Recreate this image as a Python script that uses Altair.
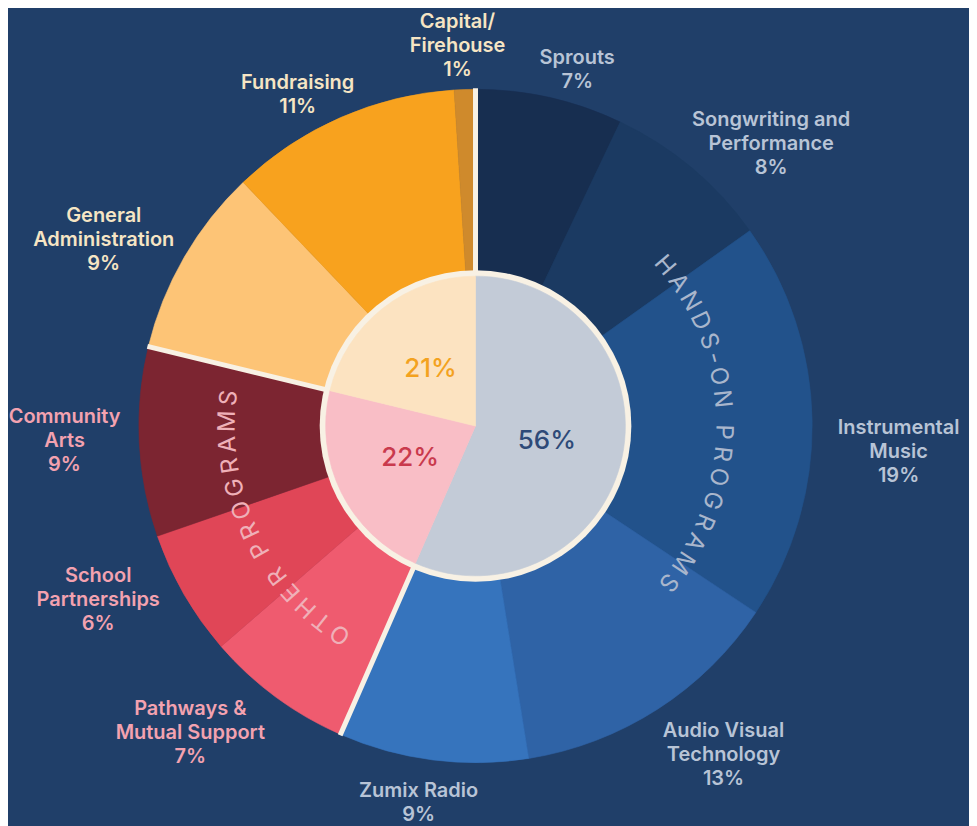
import math
import altair as alt
import pandas as pd

# ---------------- data ----------------
categories = ["Sprouts", "Songwriting and Performance", "Instrumental Music",
              "Audio Visual Technology", "Zumix Radio", "Pathways & Mutual Support",
              "School Partnerships", "Community Arts", "General Administration",
              "Fundraising", "Capital/Firehouse"]
label_lines = ["Sprouts", "Songwriting and\nPerformance", "Instrumental\nMusic",
               "Audio Visual\nTechnology", "Zumix Radio", "Pathways &\nMutual Support",
               "School\nPartnerships", "Community\nArts", "General\nAdministration",
               "Fundraising", "Capital/\nFirehouse"]
values = [7, 8, 19, 13, 9, 7, 6, 9, 9, 11, 1]
segment_group = ["hands", "hands", "hands", "hands", "hands",
                 "other", "other", "other", "ops", "ops", "ops"]
groups = ["hands", "other", "ops"]
group_values = [56, 22, 21]
arc_titles = ["HANDS-ON PROGRAMS", "OTHER PROGRAMS"]

# ---------------- style / layout ----------------
BG = "#203f69"
CREAM = "#f8f1e4"
FONT = "Inter"
seg_colors = ["#172e50", "#1b3a62", "#22528b", "#2f63a6", "#3674bd",
              "#ef5b6f", "#e04657", "#7c2531", "#fdc476", "#f8a21e", "#cf8a2c"]
group_fill = {"hands": "#c3cbd7", "other": "#f9bec6", "ops": "#fce3c1"}
group_pct_color = {"hands": "#2e4a78", "other": "#c93a4d", "ops": "#f3a21f"}
group_label_color = {"hands": "#b8c4d6", "other": "#f3a2b0", "ops": "#f6e5c4"}
label_nudge_deg = [3.2, 6.4, 4.4, -4.3, 1.3, 6.5, 5.2, 0.6, -3.4, -4.6, -0.9]
label_dr = [-3, -17, 15, 3, 9, 0, 0, 20, -10, -14, 2]
title_colors = ["#a9b6cc", "#efb0b8"]
title_span_deg = [(49.7, 129.0), (213.0, 276.5)]
TITLE_R = 248

W, H = 961, 818
CX, CY = 467, 418
R_PIE, R_RING, R_OUT = 150, 156, 337
R_PCT = 73
LAB_R0 = 340          # distance from centre to nearest edge of a label block
LINE_H = 24
CHAR_HALF_W = 5.6     # half the width of one label character
TOTAL = sum(values)
TWO_PI = 2 * math.pi

# ---------------- tables ----------------
seg = pd.DataFrame({"cat": categories, "value": values, "grp": segment_group,
                    "label": [f"{l}\n{v}%" for l, v in zip(label_lines, values)]})
seg["end"] = seg["value"].cumsum()
seg["start"] = seg["end"] - seg["value"]
seg["mid"] = (seg["start"] + seg["end"]) / 2
seg["fill"] = seg_colors
seg["tcol"] = [group_label_color[g] for g in seg["grp"]]
seg["nudge"] = label_nudge_deg
seg["dr"] = label_dr
seg["nlines"] = [len(s.split("\n")) for s in seg["label"]]
seg["hw"] = [max(len(p) for p in s.split("\n")) * CHAR_HALF_W for s in seg["label"]]
seg["hh"] = seg["nlines"] * LINE_H / 2

grp = pd.DataFrame({"grp": groups, "value": group_values})
grp["end"] = grp["value"].cumsum()
grp["start"] = grp["end"] - grp["value"]
grp["mid"] = (grp["start"] + grp["end"]) / 2
grp["fill"] = [group_fill[g] for g in groups]
grp["tcol"] = [group_pct_color[g] for g in groups]
grp["pct"] = [f"{v}%" for v in group_values]

boundaries = pd.DataFrame({"b": [0, group_values[0], group_values[0] + group_values[1]]})
ring = pd.DataFrame({"start": [0], "end": [TOTAL]})

# curved titles, one row per character
wmap = {" ": 0.5, "-": 0.6, "I": 0.45, "M": 1.2, "W": 1.3, "O": 1.1, "G": 1.1, "C": 1.05}
rows = []
for title, col, (a0, a1) in zip(arc_titles, title_colors, title_span_deg):
    ws = [wmap.get(c, 1.0) for c in title]
    centers, acc = [], 0.0
    for w in ws:
        centers.append(acc + w / 2)
        acc += w
    c0, c1 = centers[0], centers[-1]
    for ch, c in zip(title, centers):
        deg = a0 + (c - c0) / (c1 - c0) * (a1 - a0)
        rows.append({"ch": ch, "deg": deg, "col": col})
chars = pd.DataFrame(rows)

theta_scale = alt.Scale(domain=[0, TOTAL], range=[0, TWO_PI])

outer = alt.Chart(seg).mark_arc(radius=R_OUT, radius2=R_PIE - 2, strokeWidth=0.6).encode(
    theta=alt.Theta("start:Q", scale=theta_scale),
    theta2="end:Q",
    color=alt.Color("fill:N", scale=None),
    stroke=alt.Stroke("fill:N", scale=None),
    x=alt.value(CX), y=alt.value(CY),
)

separators = alt.Chart(boundaries).transform_calculate(
    a=f"datum.b / {TOTAL} * 2 * PI",
).transform_calculate(
    x1=f"{CX} + {R_PIE} * sin(datum.a)",
    y1=f"{CY} - {R_PIE} * cos(datum.a)",
    x2=f"{CX} + {R_OUT + 1} * sin(datum.a)",
    y2=f"{CY} - {R_OUT + 1} * cos(datum.a)",
).mark_rule(color=CREAM, strokeWidth=5).encode(
    x=alt.X("x1:Q", scale=None), y=alt.Y("y1:Q", scale=None),
    x2="x2:Q", y2="y2:Q",
)

ring_layer = alt.Chart(ring).mark_arc(radius=R_RING, color=CREAM).encode(
    theta=alt.Theta("start:Q", scale=theta_scale), theta2="end:Q",
    x=alt.value(CX), y=alt.value(CY),
)

pie = alt.Chart(grp).mark_arc(radius=R_PIE, strokeWidth=0.6).encode(
    theta=alt.Theta("start:Q", scale=theta_scale), theta2="end:Q",
    color=alt.Color("fill:N", scale=None),
    stroke=alt.Stroke("fill:N", scale=None),
    x=alt.value(CX), y=alt.value(CY),
)

pct = alt.Chart(grp).transform_calculate(
    a=f"datum.mid / {TOTAL} * 2 * PI",
).transform_calculate(
    px=f"{CX} + {R_PCT} * sin(datum.a)",
    py=f"{CY} - {R_PCT} * cos(datum.a)",
).mark_text(font=FONT, fontSize=26, fontWeight=500, align="center", baseline="middle").encode(
    x=alt.X("px:Q", scale=None), y=alt.Y("py:Q", scale=None),
    text="pct:N", color=alt.Color("tcol:N", scale=None),
)

labels = alt.Chart(seg).transform_calculate(
    a=f"datum.mid / {TOTAL} * 2 * PI + datum.nudge * PI / 180",
).transform_calculate(
    r=f"{LAB_R0} + datum.dr + datum.hw * abs(sin(datum.a)) + datum.hh * abs(cos(datum.a))",
).transform_calculate(
    lx=f"{CX} + datum.r * sin(datum.a)",
    ly=f"{CY} - datum.r * cos(datum.a) - (datum.nlines - 1) * {LINE_H} / 2",
).mark_text(font=FONT, fontSize=20, fontWeight=600, lineHeight=LINE_H, lineBreak="\n",
            align="center", baseline="middle").encode(
    x=alt.X("lx:Q", scale=None), y=alt.Y("ly:Q", scale=None),
    text="label:N", color=alt.Color("tcol:N", scale=None),
)

titles = alt.Chart(chars).transform_calculate(
    a="datum.deg * PI / 180",
).transform_calculate(
    tx=f"{CX} + {TITLE_R} * sin(datum.a)",
    ty=f"{CY} - {TITLE_R} * cos(datum.a)",
).mark_text(font=FONT, fontSize=24, fontWeight=400, align="center", baseline="middle").encode(
    x=alt.X("tx:Q", scale=None), y=alt.Y("ty:Q", scale=None),
    text="ch:N", angle=alt.Angle("deg:Q", scale=None),
    color=alt.Color("col:N", scale=None),
)

chart = alt.layer(outer, separators, ring_layer, pie, pct, labels, titles).properties(
    width=W, height=H
).configure(background=BG, padding=0).configure_view(stroke=None)

chart.save("out.html", embed_options={"renderer": "svg", "actions": False})
